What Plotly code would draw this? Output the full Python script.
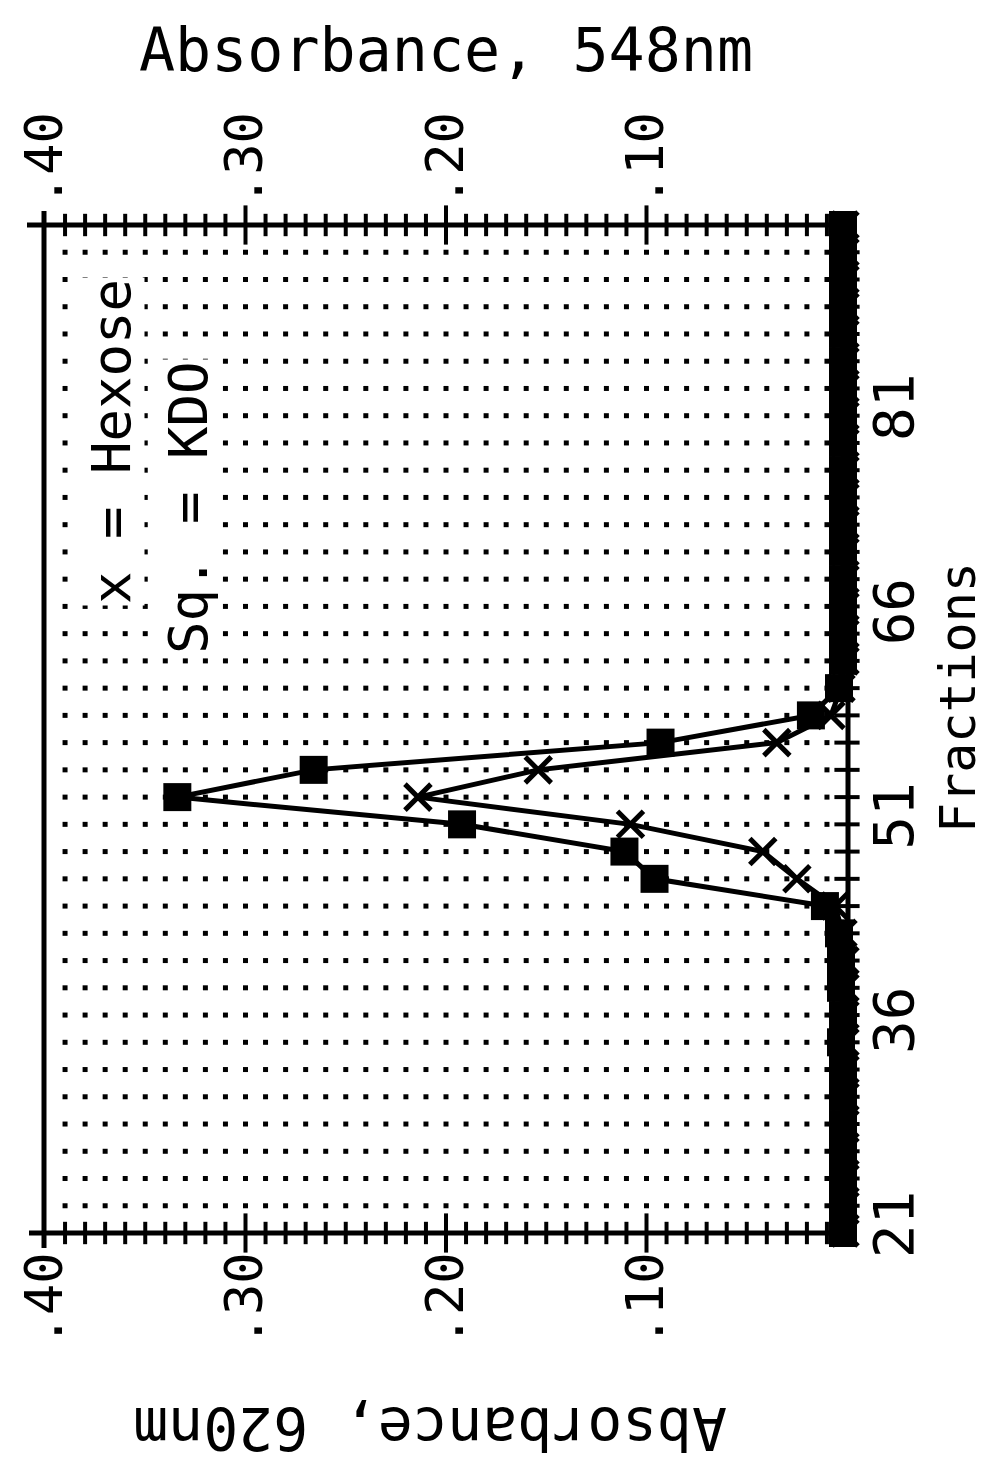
import plotly.graph_objects as go

# ---------------- data ----------------
fractions = list(range(21, 96, 2))  # 21, 23, ..., 95

kdo_548 = [0.002, 0.002, 0.002, 0.002, 0.002, 0.002, 0.002, 0.003, 0.002, 0.003,
           0.003, 0.004, 0.011, 0.096, 0.111, 0.192, 0.334, 0.266, 0.093, 0.018,
           0.004, 0.002, 0.002, 0.002, 0.002, 0.002, 0.002, 0.002, 0.002, 0.002,
           0.002, 0.002, 0.002, 0.002, 0.002, 0.002, 0.002, 0.002]

hexose_620 = [0.001, 0.001, 0.001, 0.001, 0.001, 0.001, 0.001, 0.001, 0.001, 0.001,
              0.001, 0.002, 0.006, 0.025, 0.042, 0.108, 0.214, 0.154, 0.035, 0.008,
              0.003, 0.001, 0.001, 0.001, 0.001, 0.001, 0.001, 0.001, 0.001, 0.001,
              0.001, 0.001, 0.001, 0.001, 0.001, 0.001, 0.001, 0.001]

abs_tickvals = [0.1, 0.2, 0.3, 0.4]
abs_ticktext = [".10", ".20", ".30", ".40"]
frac_tickvals = [21, 36, 51, 66, 81]
frac_ticktext = ["21", "36", "51", "66", "81"]

# grid lattice / axis tick positions
grid_abs = [round(0.01 * i, 2) for i in range(1, 40)]
grid_frac = list(range(23, 95, 2))
minor_abs = [v for v in grid_abs if round(v * 100) % 10 != 0]
major_abs = [0.1, 0.2, 0.3]

FONT = "DejaVu Sans Mono"

# ---------------- layout geometry (pixels) ----------------
W, H = 988, 1463
L, R, T, B = 36, 840, 217, 1225
PW, PH = R - L, B - T
ABS_RANGE = [0.4005, -0.0005]
FRAC_RANGE = [21, 95]


def pxx(px):
    return (px - L) / PW


def pxy(py):
    return (B - py) / PH


fig = go.Figure()

# dotted grid lattice
gx, gy = [], []
for f in grid_frac:
    for a in grid_abs:
        gx.append(a)
        gy.append(f)
fig.add_trace(go.Scatter(x=gx, y=gy, mode="markers", xaxis="x", yaxis="y",
                         marker=dict(symbol="square", size=5, color="black"),
                         hoverinfo="skip", showlegend=False))

# crossing tick marks on top / bottom / right axes
for yv, xa in ((95, "x2"), (21, "x")):
    fig.add_trace(go.Scatter(x=minor_abs, y=[yv] * len(minor_abs), mode="markers",
                             xaxis=xa, yaxis="y", cliponaxis=False,
                             marker=dict(symbol="line-ns", size=16,
                                         line=dict(width=4, color="black")),
                             hoverinfo="skip", showlegend=False))
    fig.add_trace(go.Scatter(x=major_abs, y=[yv] * len(major_abs), mode="markers",
                             xaxis=xa, yaxis="y", cliponaxis=False,
                             marker=dict(symbol="line-ns", size=28,
                                         line=dict(width=4, color="black")),
                             hoverinfo="skip", showlegend=False))
fig.add_trace(go.Scatter(x=[0] * len(grid_frac), y=grid_frac, mode="markers",
                         xaxis="x", yaxis="y", cliponaxis=False,
                         marker=dict(symbol="line-ew", size=18,
                                     line=dict(width=4, color="black")),
                         hoverinfo="skip", showlegend=False))

# Hexose (x markers) - bottom axis, 620 nm
fig.add_trace(go.Scatter(x=hexose_620, y=fractions, mode="lines+markers",
                         xaxis="x", yaxis="y", cliponaxis=False, name="Hexose",
                         line=dict(color="black", width=5),
                         marker=dict(symbol="x-thin", size=26,
                                     line=dict(width=5, color="black")),
                         showlegend=False))

# KDO (squares) - top axis, 548 nm
fig.add_trace(go.Scatter(x=kdo_548, y=fractions, mode="lines+markers",
                         xaxis="x2", yaxis="y", cliponaxis=False, name="KDO",
                         line=dict(color="black", width=5),
                         marker=dict(symbol="square", size=28, color="black"),
                         showlegend=False))

absfont = dict(family=FONT, size=52, color="black")
fracfont = dict(family=FONT, size=56, color="black")
fig.update_layout(
    width=W, height=H, autosize=False,
    margin=dict(l=L, r=W - R, t=T, b=H - B, pad=0, autoexpand=False),
    paper_bgcolor="white", plot_bgcolor="white",
    xaxis=dict(range=ABS_RANGE, tickvals=abs_tickvals, ticktext=abs_ticktext,
               tickangle=-90, tickfont=absfont, showgrid=False, zeroline=False,
               showline=False, ticks="", ticklabelstandoff=8,
               ticklabeloverflow="allow", automargin=False),
    xaxis2=dict(range=ABS_RANGE, overlaying="x", side="top", anchor="y",
                tickvals=abs_tickvals, ticktext=abs_ticktext, tickangle=-90,
                tickfont=absfont, showgrid=False, zeroline=False,
                showline=False, ticks="", ticklabelstandoff=18,
                ticklabeloverflow="allow", automargin=False),
    yaxis=dict(range=FRAC_RANGE, side="right", tickvals=frac_tickvals,
               ticktext=frac_ticktext, tickangle=-90, tickfont=fracfont,
               showgrid=False, zeroline=False, showline=False, ticks="",
               ticklabelstandoff=8, ticklabeloverflow="allow", automargin=False),
)

# frame lines (with small overhang at the left corners)
lw = 5
shapes = [
    dict(type="line", xref="paper", yref="paper", x0=pxx(19), x1=1, y0=1, y1=1),
    dict(type="line", xref="paper", yref="paper", x0=pxx(21), x1=1, y0=0, y1=0),
    dict(type="line", xref="paper", yref="paper", x0=0, x1=0, y0=pxy(1240), y1=pxy(203)),
    dict(type="line", xref="paper", yref="paper", x0=1, x1=1, y0=0, y1=1),
]
for s in shapes:
    s["line"] = dict(color="black", width=lw)
fig.update_layout(shapes=shapes)

ann = [
    dict(text="Absorbance, 548nm", x=pxx(438), y=pxy(42), textangle=0,
         font=dict(family=FONT, size=60, color="black")),
    dict(text="Absorbance, 620nm", x=pxx(422), y=pxy(1420), textangle=180,
         font=dict(family=FONT, size=58, color="black")),
    dict(text="Fractions", x=pxx(950), y=pxy(690), textangle=-90,
         font=dict(family=FONT, size=50, color="black")),
    dict(text="x = Hexose", x=pxx(103), y=pxy(434), textangle=-90, bgcolor="white",
         font=dict(family=FONT, size=54, color="black")),
    dict(text="Sq. = KDO", x=pxx(180), y=pxy(500), textangle=-90, bgcolor="white",
         font=dict(family=FONT, size=54, color="black")),
]
for a in ann:
    a.update(xref="paper", yref="paper", xanchor="center", yanchor="middle",
             showarrow=False)
fig.update_layout(annotations=ann)

fig.write_html("out.html")
